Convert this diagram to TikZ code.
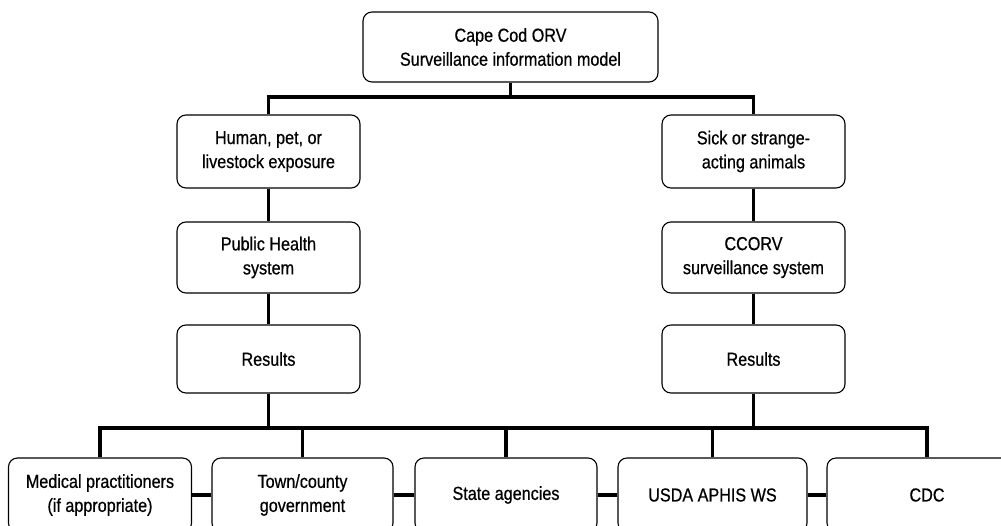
\documentclass[tikz,border=0pt]{standalone}
\usepackage{fontspec}
\setmainfont{Liberation Sans}
\newfontfamily\boxfont[FakeStretch=0.86,FakeBold=0.6]{Liberation Sans}
\begin{document}
\begin{tikzpicture}[x=1pt,y=-1pt,
  box/.style={draw=black,line width=1.1pt,rounded corners=9pt,align=center,
    inner sep=0pt,font=\boxfont\fontsize{18.8}{24}\selectfont,minimum width=183pt,minimum height=72pt},
  conn/.style={line width=3.4pt,line join=miter}]
\useasboundingbox (0,0) rectangle (1001,525);
\clip (0,0) rectangle (1001,525);
\fill[white] (0,0) rectangle (1001,525);
\node[box,minimum width=295pt,minimum height=70pt] (top) at (510.5,47) {Cape Cod ORV\\Surveillance information model};
\node[box,minimum height=73pt] (hum) at (268.5,151.5) {Human, pet, or\\livestock exposure};
\node[box,minimum height=73pt] (sick) at (753.5,151.5) {Sick or strange-\\acting animals};
\node[box,minimum height=71pt] (ph) at (268.5,257.5) {Public Health\\system};
\node[box,minimum height=71pt] (cc) at (753.5,257.5) {CCORV\\surveillance system};
\node[box,minimum height=68pt] (r1) at (268.5,359) {Results};
\node[box,minimum height=68pt] (r2) at (753.5,359) {Results};
\node[box,minimum width=183pt,minimum height=74pt] (b1) at (100,495) {Medical practitioners\\(if appropriate)};
\node[box,minimum width=181pt,minimum height=74pt] (b2) at (302.5,495) {Town/county\\government};
\node[box,minimum width=182pt,minimum height=74pt] (b3) at (506,495) {State agencies};
\node[box,minimum width=189pt,minimum height=74pt] (b4) at (712.5,495) {USDA APHIS WS};
\node[box,minimum width=200pt,minimum height=74pt] (b5) at (927,495) {CDC};
\coordinate (bus1) at (0,97);
\coordinate (bus2) at (0,428);
\draw[conn] (top.south) -- (top.south |- bus1);
\draw[conn] (hum.north) |- (sick.north |- bus1) -- (sick.north);
\draw[conn] (hum.south) -- (ph.north);
\draw[conn] (ph.south) -- (r1.north);
\draw[conn] (sick.south) -- (cc.north);
\draw[conn] (cc.south) -- (r2.north);
\draw[conn] (r1.south) -- (r1.south |- bus2);
\draw[conn] (r2.south) -- (r2.south |- bus2);
\draw[conn] (b1.north) |- (b5.north |- bus2) -- (b5.north);
\draw[conn] (b2.north) -- (b2.north |- bus2);
\draw[conn] (b3.north) -- (b3.north |- bus2);
\draw[conn] (b4.north) -- (b4.north |- bus2);
\draw[conn] (b1.east) -- (b2.west);
\draw[conn] (b2.east) -- (b3.west);
\draw[conn] (b3.east) -- (b4.west);
\draw[conn] (b4.east) -- (b5.west);
\end{tikzpicture}
\end{document}
